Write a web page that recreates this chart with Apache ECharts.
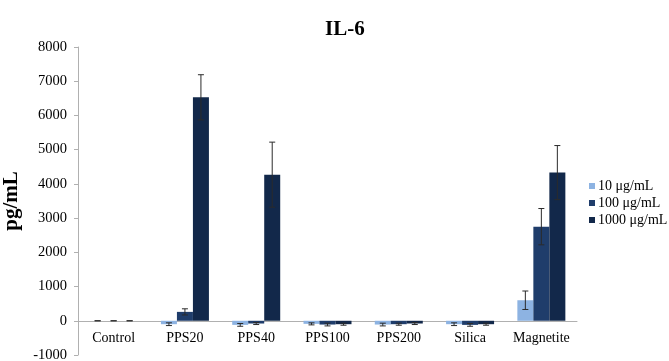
<!DOCTYPE html>
<html>
<head>
<meta charset="utf-8">
<style>
  html, body { margin: 0; padding: 0; background: #fff; }
  #chart { width: 669px; height: 361px; }
</style>
<script src="https://cdn.jsdelivr.net/npm/echarts@6/dist/echarts.min.js"></script>
</head>
<body>
<div id="chart"></div>
<script>
// IL-6 concentration per treatment and dose
const categories = ['Control', 'PPS20', 'PPS40', 'PPS100', 'PPS200', 'Silica', 'Magnetite'];
const seriesNames = ['10 \u03bcg/mL', '100 \u03bcg/mL', '1000 \u03bcg/mL'];

const dose10 = [0, -100, -120, -90, -110, -100, 600];
const dose100 = [0, 260, -80, -110, -100, -120, 2750];
const dose1000 = [0, 6530, 4270, -100, -80, -100, 4330];

// standard deviations
const err10 = [0, 40, 40, 30, 40, 40, 270];
const err100 = [0, 90, 30, 40, 30, 40, 530];
const err1000 = [0, 660, 950, 30, 30, 30, 790];

const colors = ['#8db3e2', '#1f3d6b', '#12284a'];
const FONT = '"Liberation Serif", "Times New Roman", serif';
const BAR_W = 16;

const values = [dose10, dose100, dose1000];
const errors = [err10, err100, err1000];

const chart = echarts.init(document.getElementById('chart'), null, { renderer: 'canvas' });

function errorSeries(si) {
  const data = categories.map((c, i) => [i, values[si][i], errors[si][i]]);
  return {
    type: 'custom',
    name: seriesNames[si] + ' err',
    z: 10,
    silent: true,
    renderItem: function (params, api) {
      const idx = api.value(0);
      const mean = api.value(1);
      const sd = api.value(2);
      const offset = (si - 1) * BAR_W;
      const top = api.coord([idx, mean + sd]);
      const bot = api.coord([idx, mean - sd]);
      const x = top[0] + offset;
      const cap = 3;
      const style = { stroke: '#2b2b2b', lineWidth: 1 };
      return {
        type: 'group',
        children: [
          { type: 'line', shape: { x1: x, y1: top[1], x2: x, y2: bot[1] }, style: style },
          { type: 'line', shape: { x1: x - cap, y1: top[1], x2: x + cap, y2: top[1] }, style: style },
          { type: 'line', shape: { x1: x - cap, y1: bot[1], x2: x + cap, y2: bot[1] }, style: style }
        ]
      };
    },
    data: data
  };
}

const barSeries = values.map((v, si) => ({
  type: 'bar',
  name: seriesNames[si],
  data: v,
  barWidth: BAR_W,
  barGap: '0%',
  itemStyle: { color: colors[si] },
  emphasis: { disabled: true }
}));

chart.setOption({
  animation: false,
  title: {
    text: 'IL-6',
    left: 320,
    top: 14,
    textStyle: { fontFamily: FONT, fontSize: 21, fontWeight: 'bold', color: '#000' }
  },
  legend: {
    data: seriesNames,
    orient: 'vertical',
    left: 584,
    top: 174,
    itemWidth: 6,
    itemHeight: 6,
    itemGap: 3,
    icon: 'rect',
    textStyle: { fontFamily: FONT, fontSize: 14, color: '#000', padding: [0, 0, 0, -2] }
  },
  grid: { left: 78, right: 92, top: 47, bottom: 6, containLabel: false, outerBoundsMode: 'none' },
  xAxis: {
    type: 'category',
    data: categories,
    axisLine: { onZero: true, lineStyle: { color: '#b0b0b0', width: 1 } },
    axisTick: { show: false },
    axisLabel: { fontFamily: FONT, fontSize: 14, color: '#000', margin: -24, interval: 0 }
  },
  yAxis: {
    type: 'value',
    min: -1000,
    max: 8000,
    interval: 1000,
    name: 'pg/mL',
    nameLocation: 'middle',
    nameGap: 45,
    nameTextStyle: { fontFamily: FONT, fontSize: 21, fontWeight: 'bold', color: '#000' },
    axisLine: { show: true, lineStyle: { color: '#b0b0b0', width: 1 } },
    axisTick: { show: true, length: 4, lineStyle: { color: '#b0b0b0' } },
    splitLine: { show: false },
    axisLabel: {
      fontFamily: FONT, fontSize: 14.5, color: '#000', margin: 11,
      formatter: function (v) { return String(v); }
    }
  },
  series: barSeries.concat([0, 1, 2].map(errorSeries))
});
</script>
</body>
</html>
